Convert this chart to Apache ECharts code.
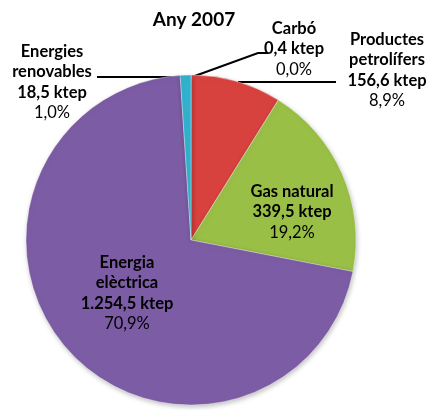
<!DOCTYPE html>
<html>
<head>
<meta charset="utf-8">
<script src="https://cdn.jsdelivr.net/npm/echarts@6/dist/echarts.min.js"></script>
<style>html,body{margin:0;padding:0;background:#fff;}#c{width:430px;height:410px;}</style>
</head>
<body>
<div id="c"></div>
<script>
const titleText = 'Any 2007';
const categories = ['Carbó', 'Productes\npetrolífers', 'Gas natural', 'Energia\nelèctrica', 'Energies\nrenovables'];
const values = [0.4, 156.6, 339.5, 1254.5, 18.5];
const valueLabels = ['0,4 ktep', '156,6 ktep', '339,5 ktep', '1.254,5 ktep', '18,5 ktep'];
const percentLabels = ['0,0%', '8,9%', '19,2%', '70,9%', '1,0%'];
const colors = ['#32b2cf', '#d8423e', '#9abf47', '#7c5ca4', '#32b2cf'];
const insideIdx = [2, 3];

const FONT = 'Lato';
// label placement (px) and leader line points per slice
const layouts = [
  {x: 294, y: 49, line: [[192, 77], [258, 53], [268, 53]]},
  {x: 387, y: 70, line: [[238, 82], [336, 82]]},
  {x: 292, y: 212, line: null},
  {x: 127, y: 293, line: null},
  {x: 52, y: 82, line: [[186, 77], [97, 77]]}
];

const chart = echarts.init(document.getElementById('c'), null, {renderer: 'canvas'});
const data = categories.map((n, i) => {
  const inside = insideIdx.indexOf(i) >= 0;
  return {
    name: n,
    value: values[i],
    itemStyle: {color: colors[i]},
    label: {position: inside ? 'inside' : 'outside'},
    labelLine: {show: !inside}
  };
});

chart.setOption({
  animation: false,
  title: {
    text: titleText, left: 189, top: 5, textAlign: 'center',
    textStyle: {fontFamily: FONT, fontWeight: 'bold', fontSize: 19, color: '#000'}
  },
  series: [{
    type: 'pie',
    center: [191, 240],
    radius: 165,
    startAngle: 90,
    clockwise: true,
    minAngle: 0,
    avoidLabelOverlap: false,
    data: data,
    itemStyle: {
      borderColor: 'rgba(255,255,255,0.35)', borderWidth: 1,
      shadowBlur: 5, shadowColor: 'rgba(0,0,0,0.25)', shadowOffsetX: 1, shadowOffsetY: 2
    },
    label: {
      show: true,
      formatter: function (p) {
        const i = p.dataIndex;
        const nameLines = categories[i].split('\n').map(s => '{b|' + s + '}').join('\n');
        return nameLines + '\n{b|' + valueLabels[i] + '}\n{n|' + percentLabels[i] + '}';
      },
      align: 'center',
      lineHeight: 20.5,
      rich: {
        b: {fontFamily: FONT, fontWeight: 'bold', fontSize: 16.5, color: '#000', lineHeight: 20.5, align: 'center'},
        n: {fontFamily: FONT, fontWeight: 'normal', fontSize: 16.5, color: '#000', lineHeight: 20.5, align: 'center'}
      }
    },
    labelLine: {show: true, lineStyle: {color: '#000', width: 2}, smooth: false},
    labelLayout: function (params) {
      const L = layouts[params.dataIndex];
      const r = {x: L.x, y: L.y, align: 'center', verticalAlign: 'middle'};
      if (L.line) r.labelLinePoints = L.line;
      return r;
    }
  }]
});
</script>
</body>
</html>
